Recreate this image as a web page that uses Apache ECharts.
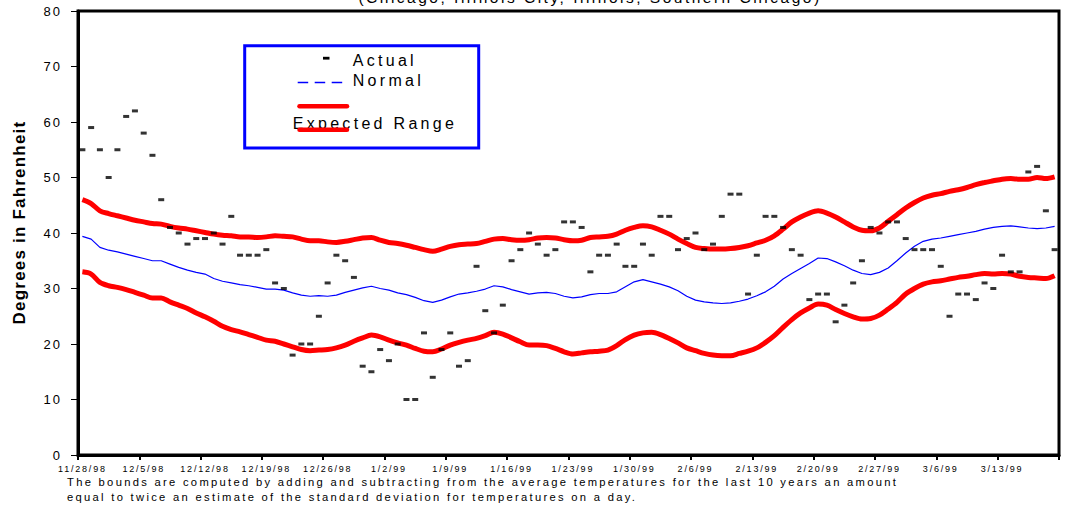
<!DOCTYPE html>
<html>
<head>
<meta charset="utf-8">
<script src="https://cdn.jsdelivr.net/npm/echarts@6/dist/echarts.min.js"></script>
<style>
html,body{margin:0;padding:0;background:#fff;}
#chart{width:1068px;height:508px;}
</style>
</head>
<body>
<div id="chart"></div>
<script>
// ---------- DATA ----------
var startDate = [1998, 10, 28]; // 11/28/98, one category per day
var dayCount = 112;
var categories = [];
for (var k = 0; k < dayCount; k++) {
  var d = new Date(startDate[0], startDate[1], startDate[2] + k);
  categories.push((d.getMonth() + 1) + '/' + d.getDate() + '/' + String(d.getFullYear()).slice(2));
}

var actual = [55,59,55,50,55,61,62,58,54,46,41,40,38,39,39,40,38,43,36,36,
  36,37,31,30,18,20,20,25,31,36,35,32,16,15,19,17,20,10,10,22,
  14,19,22,16,17,34,26,22,27,35,37,40,38,36,37,42,42,41,33,36,
  36,38,34,34,38,36,43,43,37,39,40,37,38,43,47,47,29,36,43,43,
  41,37,36,28,29,29,24,27,31,35,41,40,42,42,39,37,37,37,34,25,
  29,29,28,31,30,36,33,33,51,52,44,37];

var normal = [39.4,38.9,37.4,36.9,36.6,36.2,35.8,35.4,35.0,35.0,34.4,33.8,33.3,32.9,32.6,31.8,31.3,31.0,30.7,30.5,
  30.2,29.9,29.9,29.7,29.2,28.8,28.6,28.7,28.6,28.8,29.3,29.7,30.1,30.4,30.0,29.7,29.2,28.9,28.4,27.8,
  27.5,27.9,28.5,29.0,29.2,29.5,29.9,30.5,30.3,29.8,29.4,29.0,29.2,29.3,29.1,28.6,28.3,28.5,28.9,29.1,
  29.1,29.4,30.3,31.2,31.6,31.2,30.8,30.3,29.6,28.6,27.9,27.6,27.4,27.3,27.4,27.7,28.1,28.7,29.4,30.4,
  31.7,32.7,33.6,34.5,35.5,35.4,34.8,34.1,33.3,32.7,32.5,32.9,33.7,35.0,36.4,37.6,38.5,38.9,39.1,39.4,
  39.7,40.0,40.3,40.7,41.0,41.2,41.3,41.1,40.9,40.8,40.9,41.2];

var upper = [46.0,45.3,44.0,43.5,43.1,42.7,42.3,42.0,41.7,41.6,41.2,40.9,40.7,40.4,40.1,39.8,39.6,39.5,39.3,39.3,
  39.2,39.3,39.5,39.4,39.3,38.9,38.6,38.6,38.4,38.3,38.5,38.8,39.1,39.2,38.7,38.3,38.1,37.8,37.4,37.0,
  36.7,37.1,37.6,37.9,38.0,38.1,38.5,38.9,39.0,38.8,38.7,38.8,39.1,39.2,39.1,38.8,38.6,38.7,39.2,39.3,
  39.4,39.8,40.5,41.0,41.3,41.1,40.5,39.8,38.9,38.1,37.4,37.2,37.1,37.1,37.2,37.4,37.7,38.2,38.7,39.5,
  40.7,42.0,42.9,43.6,44.0,43.6,42.9,42.0,41.1,40.5,40.4,40.9,42.1,43.3,44.5,45.5,46.3,46.8,47.1,47.5,
  47.8,48.2,48.7,49.1,49.4,49.7,49.8,49.7,49.7,50.0,49.8,50.1];

var lower = [33.0,32.6,31.1,30.5,30.2,29.8,29.3,28.8,28.3,28.3,27.6,27.0,26.4,25.6,24.9,24.1,23.2,22.6,22.2,21.7,
  21.2,20.7,20.5,20.0,19.5,19.0,18.8,18.9,19.0,19.3,19.8,20.5,21.1,21.6,21.3,20.7,20.2,19.8,19.2,18.7,
  18.6,19.1,19.8,20.3,20.7,21.0,21.5,22.1,21.8,21.1,20.4,19.8,19.8,19.7,19.2,18.6,18.2,18.4,18.6,18.7,
  18.9,19.7,20.8,21.6,22.0,22.1,21.7,21.0,20.2,19.3,18.8,18.3,18.0,17.9,17.9,18.3,18.7,19.3,20.3,21.5,
  23.0,24.4,25.6,26.5,27.2,27.0,26.2,25.5,24.9,24.5,24.6,25.2,26.3,27.5,29.0,30.0,30.8,31.2,31.4,31.7,
  32.0,32.2,32.5,32.7,32.6,32.7,32.6,32.2,32.0,31.9,31.8,32.3];

var yTicks = [0, 80, 10]; // min, max, interval
var legendLabels = ['Actual', 'Normal', 'Expected Range'];
var yTitle = 'Degrees in Fahrenheit';
var footnote = [
  'The bounds are computed by adding and subtracting from the average temperatures for the last 10 years an amount',
  'equal to twice an estimate of the standard deviation for temperatures on a day.'
];
var topTitle = '(Chicago, Illinois City, Illinois, Southern Chicago)';

// ---------- CHART ----------
var FONT = 'Liberation Sans, Arial, sans-serif';
var chart = echarts.init(document.getElementById('chart'), null, {renderer: 'svg'});

var option = {
  animation: false,
  backgroundColor: '#fff',
  grid: {left: 78, right: 9, top: 11, bottom: 53, show: true, borderColor: '#000', borderWidth: 3, backgroundColor: 'transparent'},
  xAxis: {
    type: 'category',
    data: categories,
    boundaryGap: true,
    axisLine: {lineStyle: {color: '#000', width: 3}},
    axisTick: {show: true, interval: 6, length: 5, lineStyle: {color: '#000', width: 2}},
    axisLabel: {interval: 6, fontSize: 9, fontFamily: FONT, color: '#000', margin: 9},
    splitLine: {show: false}
  },
  yAxis: {
    type: 'value',
    min: yTicks[0], max: yTicks[1], interval: yTicks[2],
    axisLine: {show: true, lineStyle: {color: '#000', width: 3}},
    axisTick: {show: true, length: 7, lineStyle: {color: '#000', width: 1}},
    axisLabel: {fontSize: 13, fontFamily: FONT, color: '#000', margin: 16},
    splitLine: {show: false}
  },
  series: [
    {name: 'Upper', type: 'line', data: upper, symbol: 'none', smooth: 0.3, z: 3,
      lineStyle: {color: '#ff0000', width: 5}},
    {name: 'Lower', type: 'line', data: lower, symbol: 'none', smooth: 0.3, z: 3,
      lineStyle: {color: '#ff0000', width: 5}},
    {name: 'Normal', type: 'line', data: normal, symbol: 'none', z: 4,
      lineStyle: {color: '#0000ff', width: 1.2}},
    {name: 'Actual', type: 'scatter', data: actual, symbol: 'rect', symbolSize: [6, 3], z: 5,
      itemStyle: {color: '#000'}}
  ],
  graphic: [
    // legend box
    {type: 'rect', shape: {x: 244.7, y: 45.7, width: 234, height: 102.3},
      style: {fill: '#fff', stroke: '#0000ff', lineWidth: 3}, z: 100},
    {type: 'rect', shape: {x: 323, y: 56.8, width: 6.5, height: 2.8}, style: {fill: '#000'}, z: 101},
    {type: 'text', x: 352.7, y: 60.4, style: {text: legendLabels[0], font: '16px ' + FONT, fill: '#000', verticalAlign: 'middle', align: 'left'}, z: 101},
    {type: 'line', shape: {x1: 297.7, y1: 82.5, x2: 343.5, y2: 82.5}, style: {stroke: '#0000ff', lineWidth: 1.6, lineDash: [10.5, 6.5]}, z: 101},
    {type: 'text', x: 352.7, y: 80, style: {text: legendLabels[1], font: '16px ' + FONT, fill: '#000', verticalAlign: 'middle', align: 'left'}, z: 101},
    {type: 'line', shape: {x1: 299.5, y1: 106.3, x2: 347, y2: 106.3}, style: {stroke: '#ff0000', lineWidth: 4.5, lineCap: 'round'}, z: 101},
    {type: 'text', x: 292.7, y: 123.7, style: {text: legendLabels[2], font: '16px ' + FONT, fill: '#000', verticalAlign: 'middle', align: 'left'}, z: 101},
    {type: 'line', shape: {x1: 299.5, y1: 129.7, x2: 347, y2: 129.7}, style: {stroke: '#ff0000', lineWidth: 4.5, lineCap: 'round'}, z: 102},
    // y title
    {type: 'text', x: 19.5, y: 222.5, rotation: Math.PI / 2,
      style: {text: yTitle, font: 'bold 17px ' + FONT, fill: '#000', align: 'center', verticalAlign: 'middle'}, z: 100},
    // footnote
    {type: 'text', x: 67, y: 481.8, style: {text: footnote[0], font: '11.2px ' + FONT, fill: '#000', align: 'left', verticalAlign: 'middle'}, z: 100},
    {type: 'text', x: 67, y: 497, style: {text: footnote[1], font: '11.2px ' + FONT, fill: '#000', align: 'left', verticalAlign: 'middle'}, z: 100},
    // cut-off top title
    {type: 'text', x: 590, y: -3, style: {text: topTitle, font: '15.5px ' + FONT, fill: '#000', align: 'center', verticalAlign: 'middle'}, z: 100}
  ]
};
chart.setOption(option);

// letter spacing per text size (the reference uses widely tracked type)
var spacingBySize = {'9px': '1.8px', '13px': '2px', '16px': '3.3px', '17px': '1.2px', '11.2px': '2.3px', '15.5px': '2.5px'};
function applySpacing() {
  var texts = document.querySelectorAll('#chart text');
  for (var i = 0; i < texts.length; i++) {
    var fs = window.getComputedStyle(texts[i]).fontSize;
    var sp = spacingBySize[fs];
    if (sp) texts[i].setAttribute('letter-spacing', sp);
  }
}
applySpacing();
chart.on('finished', applySpacing);
setTimeout(applySpacing, 50);
setTimeout(applySpacing, 300);
</script>
</body>
</html>
